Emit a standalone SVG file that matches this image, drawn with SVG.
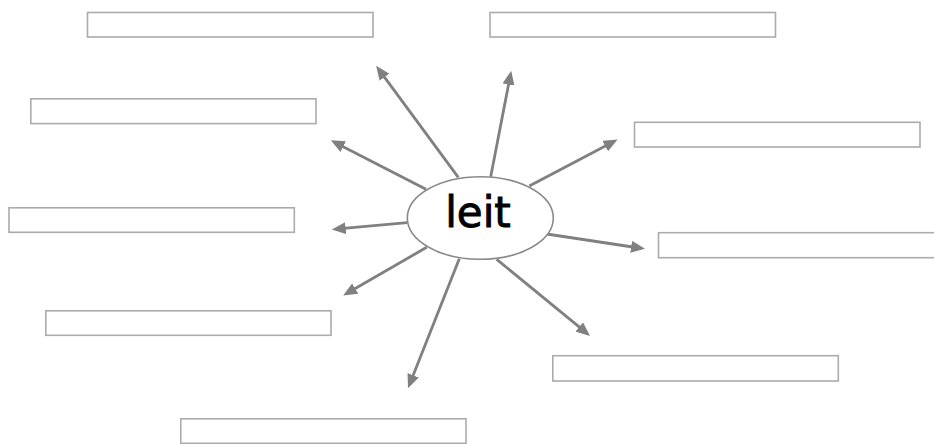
<svg xmlns="http://www.w3.org/2000/svg" width="934" height="444" viewBox="0 0 934 444">
<style>
.box{fill:#fff;stroke:#ababab;stroke-width:1.6}
.arr{stroke:#808080;stroke-width:2.8;fill:none;marker-end:url(#ah)}
.hub{fill:#fff;stroke:#8a8a8a;stroke-width:1.6}
.lbl{font-family:"DejaVu Sans",sans-serif;font-size:42px;fill:#000;stroke:#000;stroke-width:0.9;text-anchor:middle}
</style>
<defs>
<marker id="ah" viewBox="0 0 14 12" markerWidth="14" markerHeight="12" refX="5" refY="6" orient="auto" markerUnits="userSpaceOnUse">
<path d="M0,0 L14,6 L0,12 z" fill="#808080"/>
</marker>
</defs>
<rect width="934" height="444" fill="#fff"/>
<g id="connectors">
<line class="arr" x1="458.3" y1="177.3" x2="381.5" y2="73.1"/>
<line class="arr" x1="490.7" y1="176.7" x2="509.5" y2="79.6"/>
<line class="arr" x1="529.3" y1="186" x2="609.6" y2="143.7"/>
<line class="arr" x1="426" y1="189.3" x2="338.8" y2="144.4"/>
<line class="arr" x1="407.3" y1="222.7" x2="340.7" y2="228.6"/>
<line class="arr" x1="546.7" y1="234" x2="636.1" y2="247.5"/>
<line class="arr" x1="426.7" y1="247.3" x2="350.9" y2="291"/>
<line class="arr" x1="459.3" y1="258.7" x2="411.3" y2="379.9"/>
<line class="arr" x1="496.7" y1="259.3" x2="583.1" y2="330.2"/>
</g>
<g id="hub">
<ellipse class="hub" cx="480.3" cy="218" rx="73" ry="41.3"/>
<text class="lbl" x="478" y="227">leit</text>
</g>
<g id="box1"><rect class="box" x="87.5" y="12.5" width="285.5" height="24.5"/></g>
<g id="box2"><rect class="box" x="490" y="12.5" width="285.5" height="24.5"/></g>
<g id="box3"><rect class="box" x="30.8" y="98.8" width="285.2" height="24.8"/></g>
<g id="box4"><rect class="box" x="634.5" y="122.3" width="285.5" height="24.7"/></g>
<g id="box5"><rect class="box" x="9" y="207.8" width="285.3" height="24.5"/></g>
<g id="box6"><rect class="box" x="658.5" y="232.7" width="285.5" height="25"/></g>
<g id="box7"><rect class="box" x="45.8" y="310.8" width="285.2" height="24.5"/></g>
<g id="box8"><rect class="box" x="552.8" y="355.7" width="285.5" height="25.3"/></g>
<g id="box9"><rect class="box" x="180.8" y="418.8" width="285.2" height="24.5"/></g>
</svg>
